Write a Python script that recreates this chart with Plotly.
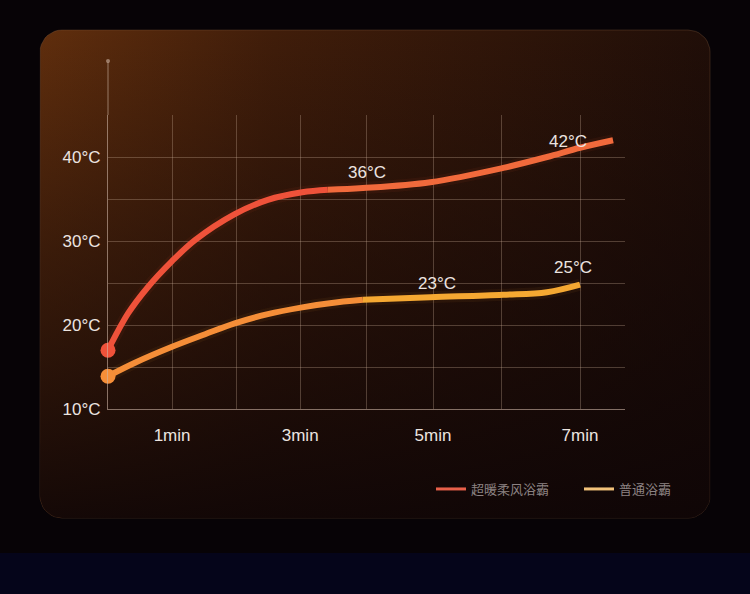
import numpy as np
import plotly.graph_objects as go

# x 轴: 分钟 (刻度位置按图上的网格线读取)
time_ticks = [0.95, 1.9, 2.85, 3.83, 4.82, 5.84, 7.0]
time_text = ["1min", "", "3min", "", "5min", "", "7min"]

# y 轴: 温度
temp_ticks = [10, 15, 20, 25, 30, 35, 40, 45]
temp_text = ["10°C", "", "20°C", "", "30°C", "", "40°C", ""]

# 超暖柔风浴霸
warm_name = "超暖柔风浴霸"
warm_x = [0, 0.3, 0.59, 0.95, 1.29, 1.88, 2.37, 2.88, 3.26, 3.78, 4.78, 5.86, 6.51, 7.0, 7.49]
warm_y = [17.0, 21.4, 24.5, 27.6, 30.1, 33.2, 34.9, 35.8, 36.1, 36.3, 37.0, 38.7, 40.0, 41.1, 42.0]

# 普通浴霸
normal_name = "普通浴霸"
normal_x = [0, 0.4, 0.95, 1.44, 1.88, 2.37, 2.88, 3.29, 3.78, 4.78, 5.86, 6.51, 7.0]
normal_y = [13.9, 15.5, 17.4, 18.9, 20.2, 21.3, 22.1, 22.6, 23.0, 23.3, 23.6, 23.9, 24.8]

# 数值标注
note_text = ["36°C", "42°C", "23°C", "25°C"]
note_x = [3.84, 6.82, 4.88, 6.90]
note_y = [38.1, 41.8, 24.9, 26.9]

W, H = 750, 594
TEXT = "#ece4e0"
GRID = "rgba(200,170,150,0.32)"
AXIS = "rgba(205,180,165,0.60)"


def rounded_rect(x0, y0, x1, y1, r, n=10):
    """圆角矩形轮廓 (像素坐标, y 向下)"""
    xs, ys = [], []
    corners = [(x1 - r, y0 + r, -90, 0), (x1 - r, y1 - r, 0, 90),
               (x0 + r, y1 - r, 90, 180), (x0 + r, y0 + r, 180, 270)]
    for cx, cy, a0, a1 in corners:
        t = np.radians(np.linspace(a0, a1, n))
        xs += list(cx + r * np.cos(t))
        ys += list(cy + r * np.sin(t))
    return xs + xs[:1], ys + ys[:1]


fig = go.Figure()

# 背景面板 (全图像素坐标轴 x/y)
panel_x, panel_y = rounded_rect(40, 30, 710, 518, 22)
fig.add_trace(go.Scatter(
    x=panel_x, y=panel_y, mode="lines", fill="toself",
    line=dict(width=1, color="rgba(130,90,60,0.35)"),
    fillgradient=dict(type="horizontal", colorscale=[
        [0, "rgb(96,46,13)"], [0.35, "rgb(64,29,10)"], [1, "rgb(32,14,8)"]]),
    hoverinfo="skip", showlegend=False, xaxis="x", yaxis="y"))
fig.add_trace(go.Scatter(
    x=panel_x, y=panel_y, mode="lines", fill="toself",
    line=dict(width=0, color="rgba(0,0,0,0)"),
    fillgradient=dict(type="vertical", colorscale=[
        [0, "rgba(14,5,6,0.92)"], [0.55, "rgba(14,5,6,0.45)"], [1, "rgba(14,5,6,0)"]]),
    hoverinfo="skip", showlegend=False, xaxis="x", yaxis="y"))


def add_curve(xs, ys, split, colors, glow):
    fig.add_trace(go.Scatter(
        x=xs, y=ys, mode="lines",
        line=dict(color=glow, width=12, shape="spline", smoothing=1),
        hoverinfo="skip", showlegend=False, cliponaxis=False,
        xaxis="x2", yaxis="y2"))
    # 在平坦处分两段上色, 模拟渐变
    for part, c in zip([slice(0, split + 1), slice(split, None)], colors):
        fig.add_trace(go.Scatter(
            x=xs[part], y=ys[part], mode="lines",
            line=dict(color=c, width=6, shape="spline", smoothing=1),
            hoverinfo="skip", showlegend=False, cliponaxis=False,
            xaxis="x2", yaxis="y2"))
    fig.add_trace(go.Scatter(
        x=xs[:1], y=ys[:1], mode="markers",
        marker=dict(size=15, color=colors[0]),
        hoverinfo="skip", showlegend=False, cliponaxis=False,
        xaxis="x2", yaxis="y2"))


add_curve(normal_x, normal_y, 8, ["#f58e38", "#f5a832"], "rgba(245,160,50,0.06)")
add_curve(warm_x, warm_y, 8, ["#ef523a", "#f16a3c"], "rgba(240,90,50,0.06)")

# 图例
fig.add_trace(go.Scatter(x=[None], y=[None], mode="lines", name=warm_name,
                         line=dict(color="#e8604a", width=3), xaxis="x2", yaxis="y2"))
fig.add_trace(go.Scatter(x=[None], y=[None], mode="lines", name=normal_name,
                         line=dict(color="#f2c27a", width=3), xaxis="x2", yaxis="y2"))

for t, x, y in zip(note_text, note_x, note_y):
    fig.add_annotation(x=x, y=y, text=t, showarrow=False, xref="x2", yref="y2",
                       font=dict(family="Liberation Sans", size=17, color=TEXT))

# 底部深蓝条
fig.add_shape(type="rect", xref="paper", yref="paper", x0=0, x1=1, y0=0, y1=41 / H,
              fillcolor="#05051a", line_width=0, layer="below")
# y 轴延长线和顶端圆点
fig.add_shape(type="line", xref="x", yref="y", x0=108, x1=108, y0=115, y1=62,
              line=dict(color=AXIS, width=1), layer="above")
fig.add_shape(type="circle", xref="x", yref="y", x0=106, x1=110, y0=59, y1=63,
              fillcolor=AXIS, line_width=0, layer="above")

fig.update_layout(
    width=W, height=H, autosize=False,
    margin=dict(l=0, r=0, t=0, b=0, autoexpand=False),
    paper_bgcolor="#070306",
    plot_bgcolor="rgba(0,0,0,0)",
    font=dict(family="Liberation Sans", color=TEXT),
    showlegend=True,
    legend=dict(orientation="h", x=431 / W, y=(H - 489) / H, xanchor="left",
                yanchor="middle", bgcolor="rgba(0,0,0,0)", entrywidth=103,
                font=dict(family="Noto Sans CJK SC", size=13, color="#8c8282")),
    xaxis=dict(domain=[0, 1], range=[0, W], visible=False, fixedrange=True,
               automargin=False),
    yaxis=dict(domain=[0, 1], range=[H, 0], visible=False, fixedrange=True,
               automargin=False),
    xaxis2=dict(domain=[108 / W, 625 / W], range=[0, 517 / 67.43], anchor="y2",
                tickvals=time_ticks, ticktext=time_text, showgrid=True,
                gridcolor=GRID, gridwidth=1, showline=True, linecolor=AXIS,
                zeroline=False, ticks="", ticklabelstandoff=11, automargin=False,
                tickfont=dict(size=17, color=TEXT)),
    yaxis2=dict(domain=[(H - 409) / H, (H - 115) / H], range=[10, 45], anchor="x2",
                tickvals=temp_ticks, ticktext=temp_text, showgrid=True,
                gridcolor=GRID, gridwidth=1, showline=True, linecolor=AXIS,
                zeroline=False, ticks="", ticklabelstandoff=3, automargin=False,
                tickfont=dict(size=17, color=TEXT)),
)

fig.write_html("out.html", config={"responsive": False, "displayModeBar": False},
               post_script="document.body.style.margin='0px';")
